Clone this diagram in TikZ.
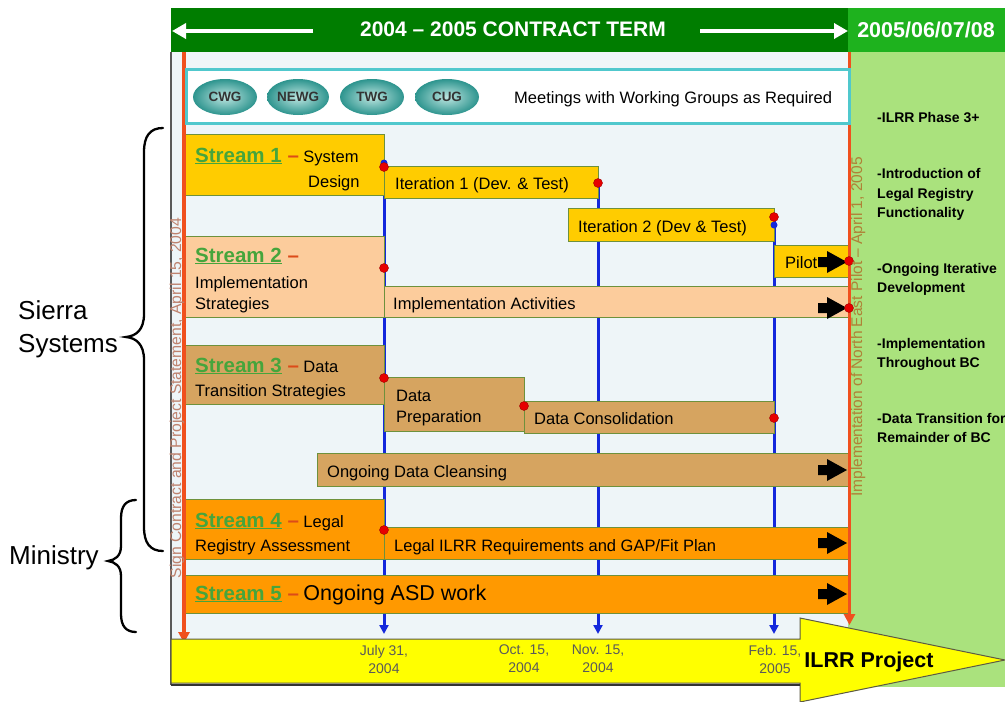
\documentclass[tikz,border=0pt]{standalone}
\usepackage{fontspec}
\setmainfont{Liberation Sans}
\usetikzlibrary{arrows.meta,shapes.geometric}
\definecolor{dkgreen}{RGB}{0,125,0}
\definecolor{headgreen}{RGB}{30,178,30}
\definecolor{panelgreen}{RGB}{170,226,125}
\definecolor{bgblue}{RGB}{238,245,248}
\definecolor{cyanb}{RGB}{80,200,205}
\definecolor{cgold}{RGB}{255,204,0}
\definecolor{cpeach}{RGB}{252,204,156}
\definecolor{ctan}{RGB}{214,164,96}
\definecolor{corng}{RGB}{255,153,0}
\definecolor{boxline}{RGB}{110,145,60}
\definecolor{sgreen}{RGB}{70,165,60}
\definecolor{dashc}{RGB}{220,75,25}
\definecolor{redl}{RGB}{240,80,30}
\definecolor{bluel}{RGB}{20,40,220}
\definecolor{dotred}{RGB}{230,0,0}
\definecolor{vtxtL}{RGB}{190,130,110}
\definecolor{vtxtR}{RGB}{175,130,55}
\definecolor{datec}{RGB}{90,90,90}
\definecolor{ellin}{RGB}{190,230,225}
\definecolor{ellout}{RGB}{45,148,142}
\definecolor{cyellow}{RGB}{255,255,0}
\newcommand{\strm}[1]{{\bfseries\fontsize{20.5}{24}\selectfont\textcolor{sgreen}{\underline{Stream #1}}~\textcolor{dashc}{–}}}
\begin{document}
\begin{tikzpicture}[x=1pt,y=-1pt,
  box/.style={draw=boxline, line width=1pt, inner sep=0, anchor=north west, rectangle},
  txt/.style={font=\fontsize{16.5}{19.8}\selectfont, inner sep=0, anchor=base west},
  rtxt/.style={font=\bfseries\fontsize{14}{16.8}\selectfont, inner sep=0, anchor=base west},
  datelbl/.style={font=\fontsize{14}{18}\selectfont, text=datec, align=center, inner sep=0},
  grp/.style={ellipse, minimum width=64, minimum height=36, inner sep=0, inner color=ellin, outer color=ellout, font=\bfseries\fontsize{13.5}{16}\selectfont, text=black!80},
  rdot/.style={circle, fill=dotred, draw=dotred!70!black, line width=0.4pt, minimum size=9, inner sep=0},
  bdot/.style={circle, fill=bluel, minimum size=7, inner sep=0},
  bline/.style={draw=bluel, line width=3pt, -{Triangle[length=9pt,width=9pt]}},
  rline/.style={draw=redl, line width=3.2pt, -{Triangle[length=11pt,width=11pt]}},
  warrow/.style={draw=white, line width=4pt, -{Triangle[length=14pt,width=15pt]}},
  blkarr/.style={fill=black},
  brace/.style={line width=2.3pt, line cap=round}
]
\useasboundingbox (0,0) rectangle (1005,702);
% backgrounds
\fill[white] (0,0) rectangle (1005,702);
\fill[panelgreen] (848,52) rectangle (1005,687);
\fill[bgblue] (171,52) rectangle (848,639);
\fill[dkgreen] (171,8) rectangle (848,52);
\fill[headgreen] (848,8) rectangle (1005,52);
\draw[black!65, line width=1.2pt] (171,52) -- (171,685);
% header
\node[font=\bfseries\fontsize{21}{24}\selectfont, text=white, inner sep=0, anchor=base] (title) at (513,36.5) {2004 – 2005 CONTRACT TERM};
\node[font=\bfseries\fontsize{21.5}{24}\selectfont, text=white, inner sep=0, anchor=base] (later) at (926,37) {2005/06/07/08};
\coordinate (wl0) at (313,31); \coordinate (wl1) at (172,31);
\coordinate (wr0) at (700,31); \coordinate (wr1) at (848,31);
\draw[warrow] (wl0) -- (wl1);
\draw[warrow] (wr0) -- (wr1);
% milestone coordinates
\coordinate (dA) at (384,167);
\coordinate (dB) at (598,183);
\coordinate (dC) at (774,217);
\coordinate (eA) at (384,634);
\coordinate (eB) at (598,634);
\coordinate (eC) at (774,634);
\draw[bline] (dA) -- (eA);
\draw[bline] (dB) -- (eB);
\draw[bline] (dC) -- (eC);
% stream boxes
\node[box, fill=cgold, minimum width=199, minimum height=61] (s1) at (185,134) {};
\node[box, fill=cgold, minimum width=214, minimum height=32] (it1) at (384,166) {};
\node[box, fill=cgold, minimum width=206, minimum height=33] (it2) at (568,208) {};
\node[box, fill=cgold, minimum width=74, minimum height=32] (pil) at (774,245) {};
\node[box, fill=cpeach, minimum width=199, minimum height=81] (s2) at (185,236) {};
\node[box, fill=cpeach, minimum width=464, minimum height=31] (impl) at (384,286) {};
\node[box, fill=ctan, minimum width=199, minimum height=59] (s3) at (185,345) {};
\node[box, fill=ctan, minimum width=140, minimum height=54] (dprep) at (384,377) {};
\node[box, fill=ctan, minimum width=250, minimum height=32] (dcons) at (524,401) {};
\node[box, fill=ctan, minimum width=531, minimum height=33] (clean) at (317,453) {};
\node[box, fill=corng, minimum width=199, minimum height=60] (s4) at (185,499) {};
\node[box, fill=corng, minimum width=464, minimum height=32] (legal) at (384,527) {};
\node[box, fill=corng, minimum width=663, minimum height=38] (s5) at (185,575) {};
% red time lines
\coordinate (rl0) at (184,52); \coordinate (rl1) at (184,643);
\coordinate (rr0) at (849.5,52); \coordinate (rr1) at (849.5,625);
\draw[rline] (rl0) -- (rl1);
\draw[rline] (rr0) -- (rr1);
% meetings box
\node[draw=cyanb, line width=3pt, fill=white, anchor=north west, minimum width=663, minimum height=54, inner sep=0] (meet) at (185,68) {};
\node[grp] (cwg) at (225,97) {CWG};
\node[grp, minimum width=62] (newg) at (298,97) {NEWG};
\node[grp] (twg) at (372,97) {TWG};
\node[grp] (cug) at (447,97) {CUG};
\node[txt] (meettxt) at (514,103) {Meetings with Working Groups as Required};
% stream texts
\node[txt] (t1) at (195,162) {\strm{1} System};
\node[txt] (t1b) at (308,187) {Design};
\node[txt] (tit1) at (395,189) {Iteration 1 (Dev. \& Test)};
\node[txt] (tit2) at (578,232) {Iteration 2 (Dev \& Test)};
\node[txt] (tpil) at (785,268) {Pilot};
\node[txt] (t2) at (195,262) {\strm{2}};
\node[txt] (t2b) at (195,288) {Implementation};
\node[txt] (t2c) at (195,309) {Strategies};
\node[txt] (timpl) at (393,309) {Implementation Activities};
\node[txt] (t3) at (195,372) {\strm{3} Data};
\node[txt] (t3b) at (195,396) {Transition Strategies};
\node[txt] (tdp) at (396,401) {Data};
\node[txt] (tdp2) at (396,422) {Preparation};
\node[txt] (tdc) at (534,424) {Data Consolidation};
\node[txt] (tcl) at (327,477) {Ongoing Data Cleansing};
\node[txt] (t4) at (195,527) {\strm{4} Legal};
\node[txt] (t4b) at (195,551) {Registry Assessment};
\node[txt] (tleg) at (394,551) {Legal ILRR Requirements and GAP/Fit Plan};
\node[txt] (t5) at (195,600) {\strm{5} {\fontsize{21.5}{24}\selectfont Ongoing ASD work}};
% black block arrows
\foreach \yy in {262,308,470,543,594}{
  \fill[blkarr, shift={(847,\yy)}] (-29,-5) -- (-20,-5) -- (-20,-11) -- (0,0) -- (-20,11) -- (-20,5) -- (-29,5) -- cycle;
}
% dots
\node[bdot] (bA) at (384,163) {};
\node[rdot] (rA) at (dA) {};
\node[rdot] (rB) at (dB) {};
\node[bdot] (bC) at (774,225) {};
\node[rdot] (rC) at (dC) {};
\node[rdot] (rD) at (384,268) {};
\node[rdot] (rE) at (849,261) {};
\node[rdot] (rF) at (849,308) {};
\node[rdot] (rG) at (384,378) {};
\node[rdot] (rH) at (524,406) {};
\node[rdot] (rI) at (774,418) {};
\node[rdot] (rJ) at (384,530) {};
% vertical texts
\node[font=\fontsize{15.7}{18}\selectfont, text=vtxtL, rotate=90, inner sep=0] (signtxt) at (177,398) {Sign Contract and Project Statement, April 15, 2004};
\node[font=\fontsize{15.5}{18}\selectfont, text=vtxtR, rotate=90, inner sep=0] (pilottxt) at (858,327) {Implementation of North East Pilot – April 1, 2005};
% right column
\node[rtxt] (r1) at (877,122) {-ILRR Phase 3+};
\node[rtxt] (r2) at (877,178) {-Introduction of};
\node[rtxt] (r3) at (877,198) {Legal Registry};
\node[rtxt] (r4) at (877,217) {Functionality};
\node[rtxt] (r5) at (877,273) {-Ongoing Iterative};
\node[rtxt] (r6) at (877,292) {Development};
\node[rtxt] (r7) at (877,348) {-Implementation};
\node[rtxt] (r8) at (877,367) {Throughout BC};
\node[rtxt] (r9) at (877,423) {-Data Transition for};
\node[rtxt] (r10) at (877,442) {Remainder of BC};
% bottom arrow
\draw[fill=cyellow, draw=black!55!yellow!60!black, line width=1pt] (171,639) -- (800,639) -- (800,618) -- (1005,660) -- (800,702) -- (800,683) -- (171,683) -- cycle;
\draw[black!80, line width=2pt] (171,684.5) -- (800,684.5);
\node[datelbl] (dt1) at (384,659) {July 31,\\2004};
\node[datelbl] (dt2) at (524,659) {Oct. 15,\\2004};
\node[datelbl] (dt3) at (598,659) {Nov. 15,\\2004};
\node[datelbl] (dt4) at (775,659) {Feb. 15,\\2005};
\node[font=\bfseries\fontsize{21.5}{24}\selectfont, inner sep=0, anchor=base] (ilrr) at (869,667) {ILRR Project};
% braces and groups
\draw[brace] (163,128) .. controls (150,128) and (144,136) .. (144,152) -- (144,314) .. controls (144,330) and (136,336) .. (126,337) .. controls (136,338) and (144,344) .. (144,360) -- (144,527) .. controls (144,543) and (150,551) .. (163,551);
\draw[brace] (136,500) .. controls (126,500) and (121,506) .. (121,518) -- (121,546) .. controls (121,556) and (115,560) .. (108,561) .. controls (115,562) and (121,566) .. (121,576) -- (121,614) .. controls (121,626) and (126,632) .. (136,632);
\node[font=\fontsize{26}{31}\selectfont, inner sep=0, anchor=base west] (sierra) at (18,319) {Sierra};
\node[font=\fontsize{26}{31}\selectfont, inner sep=0, anchor=base west] (systems) at (18,352) {Systems};
\node[font=\fontsize{26}{31}\selectfont, inner sep=0, anchor=base west] (ministry) at (9,564) {Ministry};
\end{tikzpicture}
\end{document}
